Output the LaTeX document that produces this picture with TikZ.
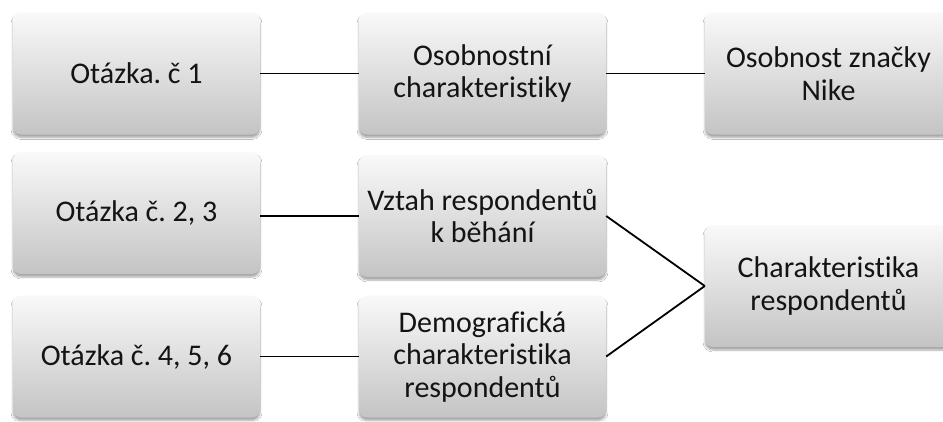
\documentclass[tikz,border=0pt]{standalone}
\usepackage{fontspec}
\setmainfont{Carlito}[Ligatures=NoCommon]
\usetikzlibrary{shadows.blur}
\definecolor{boxtop}{HTML}{F9F9F9}
\definecolor{boxbot}{HTML}{C4C4C4}
\frenchspacing
\begin{document}
\begin{tikzpicture}[x=1pt,y=-1pt,
  box/.style={rounded corners=8pt, minimum width=247pt, minimum height=122pt,
    top color=boxtop, bottom color=boxbot, draw=none, align=center,
    font=\fontsize{30}{32.5}\selectfont, inner sep=4pt, text=black!92,
    blur shadow={shadow xshift=0pt, shadow yshift=-3pt, shadow blur steps=6, shadow opacity=35}},
  link/.style={line width=1.8pt, black}]
\clip (0,0) rectangle (943,421);
\fill[white] (0,0) rectangle (943,421);
\node[box] (q1) at (136.5,73.5) {Otázka. č 1};
\node[box] (os) at (482.5,73.5) {Osobnostní\\charakteristiky};
\node[box] (nike) at (828.5,73.5) {Osobnost značky\\Nike};
\node[box] (q23) at (136.5,213) {Otázka č. 2, 3};
\node[box] (vz) at (482.5,216) {Vztah respondentů\\k běhání};
\node[box] (q456) at (136.5,356.5) {Otázka č. 4, 5, 6};
\node[box] (demo) at (482.5,356.5) {Demografická\\charakteristika\\respondentů};
\node[box] (char) at (828.5,286) {Charakteristika\\respondentů};
\draw[link] (q1) -- (os);
\draw[link] (os) -- (nike);
\draw[link] (q23.east |- vz.east) -- (vz.west);
\draw[link] (q456) -- (demo);
\draw[link] (vz.east) -- (char.west);
\draw[link] (demo.east) -- (char.west);
\end{tikzpicture}
\end{document}
